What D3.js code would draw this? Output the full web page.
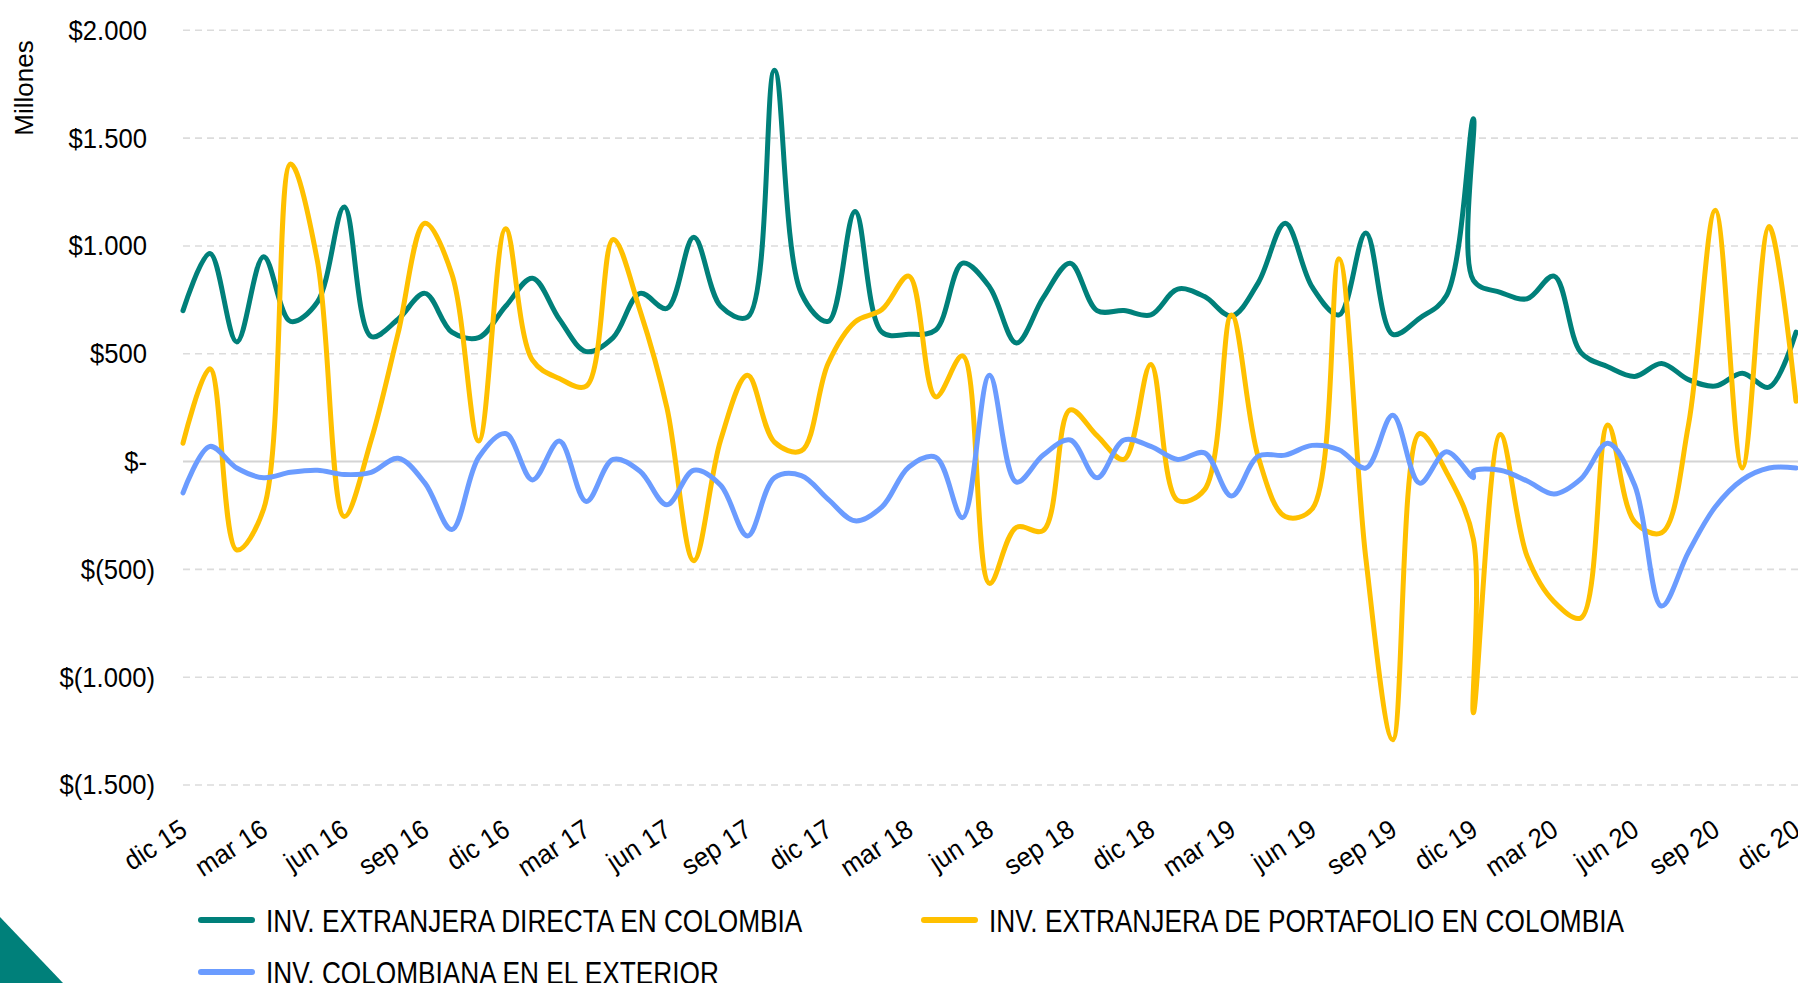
<!DOCTYPE html>
<html>
<head>
<meta charset="utf-8">
<script src="https://cdn.jsdelivr.net/npm/d3@7/dist/d3.min.js"></script>
<style>
  html, body { margin: 0; padding: 0; background: #ffffff; }
  svg { display: block; }
</style>
</head>
<body>
<svg id="chart" width="1798" height="983"></svg>
<script>
// Monthly observations (two records fall in December 2019)
const months = [
  "2015-12",
  "2016-01","2016-02","2016-03","2016-04","2016-05","2016-06","2016-07","2016-08","2016-09","2016-10","2016-11","2016-12",
  "2017-01","2017-02","2017-03","2017-04","2017-05","2017-06","2017-07","2017-08","2017-09","2017-10","2017-11","2017-12",
  "2018-01","2018-02","2018-03","2018-04","2018-05","2018-06","2018-07","2018-08","2018-09","2018-10","2018-11","2018-12",
  "2019-01","2019-02","2019-03","2019-04","2019-05","2019-06","2019-07","2019-08","2019-09","2019-10","2019-11","2019-12","2019-12",
  "2020-01","2020-02","2020-03","2020-04","2020-05","2020-06","2020-07","2020-08","2020-09","2020-10","2020-11","2020-12"
];

// Millones de USD
const inversionDirecta = [
  700,
  965, 555, 950, 650, 740, 1180, 580, 660, 780, 600, 575, 720,
  850, 660, 510, 575, 780, 710, 1040, 720, 670, 1815, 780, 650,
  1160, 600, 590, 610, 920, 810, 550, 760, 920, 700, 700, 680,
  800, 765, 675, 830, 1105, 810, 680, 1060, 590, 665, 770, 1590, 840,
  785, 755, 860, 505, 440, 395, 455, 380, 350, 410, 345, 600
];

const inversionPortafolio = [
  85,
  430, -410, -220, 1380, 930, -255, 100, 595, 1105, 870, 95, 1080,
  470, 385, 350, 1030, 700, 250, -460, 100, 400, 90, 50, 456,
  648, 705, 860, 300, 490, -565, -305, -320, 240, 120, 10, 450,
  -180, -130, 680, 20, -255, -220, 940, -450, -1290, 130, -50, -360, -1165,
  125, -440, -650, -725, 170, -280, -330, 170, 1165, -30, 1090, 280
];

const inversionExterior = [
  -145,
  70, -30, -75, -50, -40, -60, -50, 15, -100, -315, 20, 130,
  -85, 95, -185, 10, -45, -200, -40, -110, -345, -75, -65, -175,
  -275, -210, -25, 20, -260, 400, -95, 30, 100, -75, 100, 70,
  10, 40, -160, 25, 30, 75, 55, -30, 215, -100, 45, -75, -45,
  -40, -90, -150, -80, 85, -110, -670, -420, -210, -85, -30, -30
];

const seriesNames = [
  "INV. EXTRANJERA DIRECTA EN COLOMBIA",
  "INV. EXTRANJERA DE PORTAFOLIO EN COLOMBIA",
  "INV. COLOMBIANA EN EL EXTERIOR"
];
const seriesColors = ["#00807a", "#ffc000", "#6b9cff"];

const tickMonths = [
  "2015-12","2016-03","2016-06","2016-09","2016-12","2017-03","2017-06","2017-09","2017-12",
  "2018-03","2018-06","2018-09","2018-12","2019-03","2019-06","2019-09","2019-12",
  "2020-03","2020-06","2020-09","2020-12"
];
const tickLabels = [
  "dic 15","mar 16","jun 16","sep 16","dic 16","mar 17","jun 17","sep 17","dic 17",
  "mar 18","jun 18","sep 18","dic 18","mar 19","jun 19","sep 19","dic 19",
  "mar 20","jun 20","sep 20","dic 20"
];

const yTicks = [2000, 1500, 1000, 500, 0, -500, -1000, -1500];
const yTickLabels = ["$2.000","$1.500","$1.000","$500","$-","$(500)","$(1.000)","$(1.500)"];

// ---- layout ----
const W = 1798, H = 983;
const plotLeft = 183, plotRight = 1796, gridRight = 1798;
const baseFont = "'Liberation Sans', Arial, Helvetica, sans-serif";

const svg = d3.select("#chart");
svg.append("rect").attr("width", W).attr("height", H).attr("fill", "#ffffff");

// month offset counted from December 2015
const monthIndex = s => {
  const [yy, mm] = s.split("-").map(Number);
  return (yy - 2015) * 12 + (mm - 12);
};

const x = d3.scaleLinear().domain([0, 60]).range([plotLeft, plotRight]);
const y = d3.scaleLinear().domain([-1500, 2000]).range([785, 30.3]);

// horizontal gridlines
const grid = svg.append("g");
grid.selectAll("line")
  .data(yTicks)
  .join("line")
  .attr("x1", plotLeft)
  .attr("x2", gridRight)
  .attr("y1", d => y(d))
  .attr("y2", d => y(d))
  .attr("stroke", d => d === 0 ? "#d4d4d4" : "#dcdcdc")
  .attr("stroke-width", d => d === 0 ? 2 : 1.6)
  .attr("stroke-dasharray", d => d === 0 ? null : "7,5");

// y-axis labels (slightly condensed)
svg.append("g")
  .selectAll("text")
  .data(yTicks)
  .join("text")
  .attr("transform", d => `translate(${d < 0 ? 155 : 147},${y(d)}) scale(0.95,1)`)
  .attr("dy", "0.35em")
  .attr("text-anchor", "end")
  .attr("font-family", baseFont)
  .attr("font-size", 27)
  .attr("fill", "#000")
  .text((d, i) => yTickLabels[i]);

svg.append("text")
  .attr("transform", "translate(33,88) rotate(-90)")
  .attr("text-anchor", "middle")
  .attr("font-family", baseFont)
  .attr("font-size", 26)
  .attr("fill", "#000")
  .text("Millones");

// x-axis labels, slanted
svg.append("g")
  .selectAll("text")
  .data(tickMonths)
  .join("text")
  .attr("transform", d => `translate(${x(monthIndex(d)) + 6},834) rotate(-33) scale(0.95,1)`)
  .attr("text-anchor", "end")
  .attr("font-family", baseFont)
  .attr("font-size", 27)
  .attr("fill", "#000")
  .text((d, i) => tickLabels[i]);

// series lines
const seriesValues = [inversionDirecta, inversionPortafolio, inversionExterior];
const line = d3.line()
  .x(d => x(d.m))
  .y(d => y(d.v))
  .curve(d3.curveCatmullRom.alpha(0.5));

const plot = svg.append("g");
seriesValues.forEach((vals, k) => {
  const pts = vals.map((v, i) => ({ m: monthIndex(months[i]), v }));
  plot.append("path")
    .datum(pts)
    .attr("d", line)
    .attr("fill", "none")
    .attr("stroke", seriesColors[k])
    .attr("stroke-width", 5)
    .attr("stroke-linejoin", "round")
    .attr("stroke-linecap", "round");
});

// legend (condensed lettering)
const legendItems = [
  { k: 0, x: 198, y: 920 },
  { k: 1, x: 921, y: 920 },
  { k: 2, x: 198, y: 972 }
];
const legend = svg.append("g");
legendItems.forEach(it => {
  legend.append("line")
    .attr("x1", it.x + 3).attr("x2", it.x + 54)
    .attr("y1", it.y).attr("y2", it.y)
    .attr("stroke", seriesColors[it.k])
    .attr("stroke-width", 6)
    .attr("stroke-linecap", "round");
  legend.append("text")
    .attr("transform", `translate(${it.x + 68},${it.y + 11.5}) scale(0.82,1)`)
    .attr("font-family", baseFont)
    .attr("font-size", 32)
    .attr("fill", "#000")
    .text(seriesNames[it.k]);
});

// corner accent
svg.append("path")
  .attr("d", d3.line()([[0, 917], [63, 983], [0, 983]]) + "Z")
  .attr("fill", "#00807a");
</script>
</body>
</html>
